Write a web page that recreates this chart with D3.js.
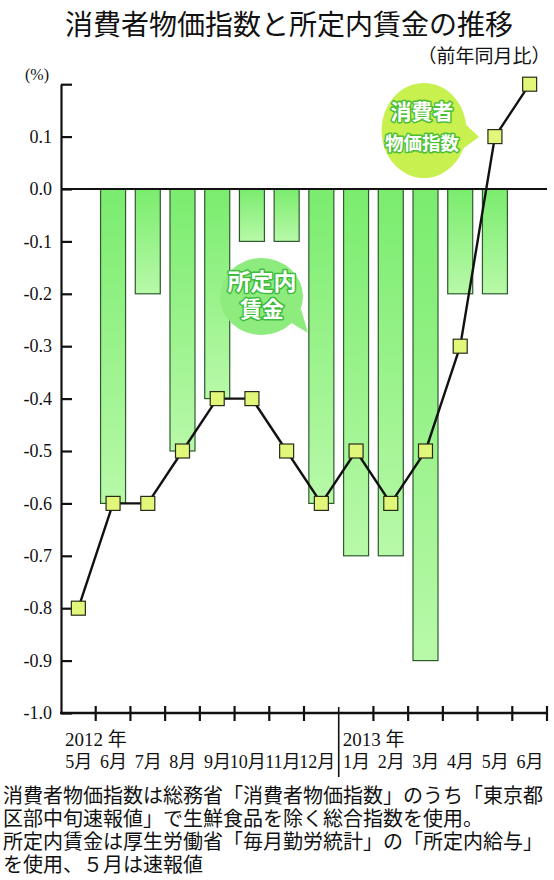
<!DOCTYPE html>
<html><head><meta charset="utf-8">
<script src="https://cdn.jsdelivr.net/npm/d3@7"></script>
<style>
html,body{margin:0;padding:0;background:#fff;}
svg{display:block;}
</style></head>
<body>
<svg id="chart" width="554" height="880"></svg>
<script>
// ---- data ----
const months = ["5月","6月","7月","8月","9月","10月","11月","12月","1月","2月","3月","4月","5月","6月"];
const yearLabels = [{idx:0, text:"2012 年"}, {idx:8, text:"2013 年"}];
const wageValues = [null,-0.6,-0.2,-0.5,-0.4,-0.1,-0.1,-0.6,-0.7,-0.7,-0.9,-0.2,-0.2,null];
const cpiValues = [-0.8,-0.6,-0.6,-0.5,-0.4,-0.4,-0.5,-0.6,-0.5,-0.6,-0.5,-0.3,0.1,0.2];
const yTicks = [0.2,0.1,0,-0.1,-0.2,-0.3,-0.4,-0.5,-0.6,-0.7,-0.8,-0.9,-1.0];
const yTickLabels = ["","0.1","0.0","-0.1","-0.2","-0.3","-0.4","-0.5","-0.6","-0.7","-0.8","-0.9","-1.0"];
const title = "消費者物価指数と所定内賃金の推移";
const subtitle = "（前年同月比）";
const unitLabel = "(%)";
const cpiBubble = ["消費者","物価指数"];
const wageBubble = ["所定内","賃金"];
const notes = [
  "消費者物価指数は総務省「消費者物価指数」のうち「東京都",
  "区部中旬速報値」で生鮮食品を除く総合指数を使用。",
  "所定内賃金は厚生労働省「毎月勤労統計」の「所定内給与」",
  "を使用、５月は速報値"
];

// ---- layout ----
const svg = d3.select("#chart");
const L = 61, R = 547, T = 84.2, B = 713;
const idx = d3.range(months.length);
const xBar = d3.scaleBand().domain(idx).range([L, R]).paddingInner(0.28).paddingOuter(0.14);
const xSlot = d3.scaleBand().domain(idx).range([L, R]).padding(0);
const y = d3.scaleLinear().domain([-1.0, 0.2]).range([B, T]);

const sans = "'Noto Sans CJK JP','Noto Sans',sans-serif";
const serif = "'Liberation Serif','DejaVu Serif','Noto Sans CJK JP',serif";

const defs = svg.append("defs");
const g = defs.append("linearGradient").attr("id","barGrad").attr("x1",0).attr("y1",0).attr("x2",0).attr("y2",1);
g.append("stop").attr("offset","0%").attr("stop-color","#7aec6e");
g.append("stop").attr("offset","100%").attr("stop-color","#b8f9a8");

// title
svg.append("text").attr("x",65).attr("y",35).attr("font-family",sans).attr("font-size",28)
  .attr("fill","#111").text(title);
svg.append("text").attr("x",484).attr("y",63).attr("text-anchor","middle").attr("font-family",sans)
  .attr("font-size",19).attr("fill","#111").text(subtitle);
svg.append("text").attr("x",25).attr("y",80).attr("font-family",serif).attr("font-size",16)
  .attr("fill","#111").text(unitLabel);

// bars
svg.append("g").selectAll("rect").data(idx.filter(i => wageValues[i] !== null)).join("rect")
  .attr("x", i => xBar(i)).attr("width", xBar.bandwidth())
  .attr("y", y(0)).attr("height", i => y(wageValues[i]) - y(0))
  .attr("fill","url(#barGrad)").attr("stroke","#2f5a2f").attr("stroke-width",1.2);

// bubble: wage
const wb = svg.append("g");
wb.append("path").attr("d","M290,322 L308,333 L301,309 Z").attr("fill","#8eec7e");
wb.append("ellipse").attr("cx",261.5).attr("cy",296.5).attr("rx",41.5).attr("ry",38.5).attr("fill","#8eec7e");
wb.selectAll("text").data(wageBubble).join("text")
  .attr("x",262).attr("y",(d,i)=> i===0 ? 290 : 317).attr("text-anchor","middle")
  .attr("font-family",sans).attr("font-weight",700).attr("font-size",(d,i)=> i===0?23:22)
  .attr("fill","#fff").attr("stroke","#3dbb3d").attr("stroke-width",3).attr("paint-order","stroke")
  .attr("stroke-linejoin","round").text(d=>d);

// bubble: cpi
const cb = svg.append("g");
cb.append("path").attr("d","M461,120 L479,137 L457,153 Z").attr("fill","#c8f04e");
cb.append("ellipse").attr("cx",424).attr("cy",130.5).attr("rx",42.5).attr("ry",47.5).attr("fill","#c8f04e");
cb.selectAll("text").data(cpiBubble).join("text")
  .attr("x",422).attr("y",(d,i)=> i===0 ? 119 : 150).attr("text-anchor","middle")
  .attr("font-family",sans).attr("font-weight",700).attr("font-size",(d,i)=> i===0?21:18.5)
  .attr("fill","#fff").attr("stroke","#4cbf34").attr("stroke-width",3).attr("paint-order","stroke")
  .attr("stroke-linejoin","round").text(d=>d);

// zero line
svg.append("line").attr("x1",L).attr("x2",R).attr("y1",y(0)).attr("y2",y(0))
  .attr("stroke","#111").attr("stroke-width",2);

// y axis
const yAxis = d3.axisLeft(y).tickValues(yTicks).tickSizeInner(-11).tickSizeOuter(0).tickPadding(9)
  .tickFormat((d,i)=> yTickLabels[i]);
const ya = svg.append("g").attr("transform",`translate(${L},0)`).call(yAxis);
ya.select(".domain").attr("stroke","#111").attr("stroke-width",2.2);
ya.selectAll(".tick line").attr("stroke","#111").attr("stroke-width",2.2);
ya.selectAll(".tick text").attr("font-family",serif).attr("font-size",18).attr("fill","#111");

// x axis
svg.append("line").attr("x1",L-1).attr("x2",R+1).attr("y1",B).attr("y2",B).attr("stroke","#111").attr("stroke-width",2.5);
svg.append("g").selectAll("line").data(idx).join("line")
  .attr("x1", i => xSlot(i)+xSlot.bandwidth()).attr("x2", i => xSlot(i)+xSlot.bandwidth())
  .attr("y1", i => i===7 ? B-6 : B-7).attr("y2", i => i===7 ? 777 : B+8)
  .attr("stroke","#111").attr("stroke-width", i => i===7 ? 1.6 : 2.2);

// x labels
svg.append("g").selectAll("text").data(idx).join("text")
  .attr("x", i => xSlot(i)+xSlot.bandwidth()-3.5).attr("y",768).attr("text-anchor","end")
  .attr("font-family",serif).attr("font-size",18).attr("fill","#111").text(i => months[i]);
svg.append("g").selectAll("text").data(yearLabels).join("text")
  .attr("x", d => xSlot(d.idx)+4).attr("y",746)
  .attr("font-family",serif).attr("font-size",19).attr("fill","#111").text(d => d.text);

// cpi line
const line = d3.line().x(i => xSlot(i)+xSlot.bandwidth()/2).y(i => y(cpiValues[i]));
svg.append("path").datum(idx).attr("d",line).attr("fill","none").attr("stroke","#111").attr("stroke-width",2.4);
const ms = 14;
svg.append("g").selectAll("rect").data(idx).join("rect")
  .attr("x", i => xSlot(i)+xSlot.bandwidth()/2-ms/2).attr("y", i => y(cpiValues[i])-ms/2)
  .attr("width",ms).attr("height",ms).attr("fill","#e0f77a").attr("stroke","#2a2a1a").attr("stroke-width",1.2);

// notes
svg.append("g").selectAll("text").data(notes).join("text")
  .attr("x",3).attr("y",(d,i)=> 803 + i*23).attr("font-family",sans).attr("font-size",20)
  .attr("fill","#111").text(d=>d);
</script>
</body></html>
